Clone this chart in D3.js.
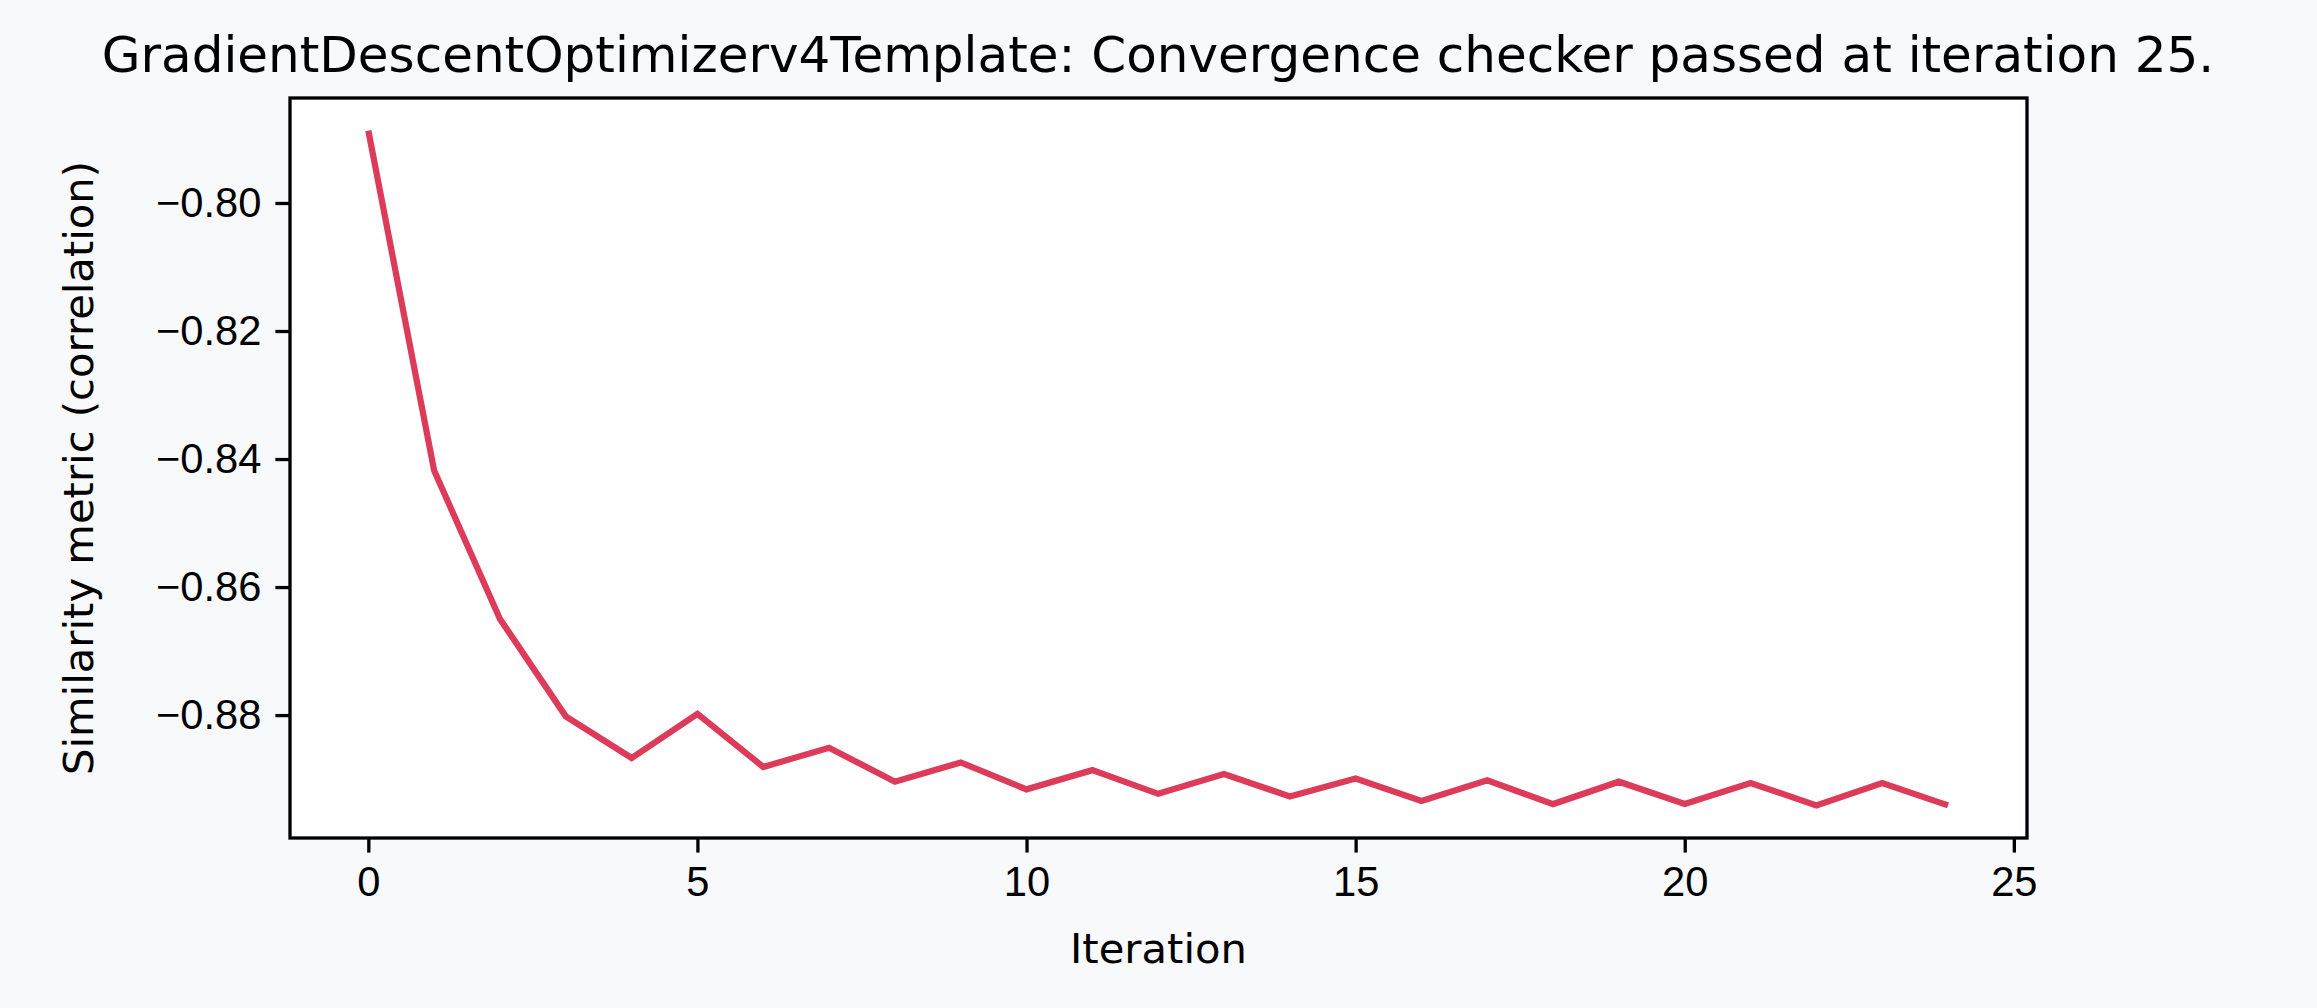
<!DOCTYPE html>
<html>
<head>
<meta charset="utf-8">
<script src="https://cdn.jsdelivr.net/npm/d3@7"></script>
<style>
  body { margin: 0; background: #f8f9fb; }
  svg { display: block; font-family: "DejaVu Sans", sans-serif; }
</style>
</head>
<body>
<div id="chart"></div>
<script>
const iterations = d3.range(25);
const metric = [-0.7887, -0.8418, -0.8650, -0.8802, -0.8867, -0.8798, -0.8881, -0.8851, -0.8904, -0.8874,
  -0.8916, -0.8886, -0.8923, -0.8892, -0.8927, -0.8899, -0.8934, -0.8902, -0.8939, -0.8904,
  -0.8939, -0.8906, -0.8941, -0.8906, -0.8941];
const xTicks = [0, 5, 10, 15, 20, 25];
const yTicks = [-0.80, -0.82, -0.84, -0.86, -0.88];

const width = 2317, height = 1008;
const plot = {left: 290, right: 2027, top: 98, bottom: 838};

const svg = d3.select("#chart").append("svg").attr("width", width).attr("height", height);
svg.append("rect").attr("width", width).attr("height", height).attr("fill", "#f8f9fb");
svg.append("rect").attr("x", plot.left).attr("y", plot.top)
  .attr("width", plot.right - plot.left).attr("height", plot.bottom - plot.top).attr("fill", "white");

const x = d3.scaleLinear().domain([-1.19, 25.2]).range([plot.left, plot.right]);
const y = d3.scaleLinear().domain([-0.8992, -0.7836]).range([plot.bottom, plot.top]);

const fmt = v => (v < 0 ? "\u2212" : "") + Math.abs(v).toFixed(2);

const xAxis = svg.append("g").attr("transform", `translate(0,${plot.bottom})`)
  .call(d3.axisBottom(x).tickValues(xTicks).tickSize(14.6).tickPadding(14));
const yAxis = svg.append("g").attr("transform", `translate(${plot.left},0)`)
  .call(d3.axisLeft(y).tickValues(yTicks).tickFormat(fmt).tickSize(14.6).tickPadding(14));
[xAxis, yAxis].forEach(a => {
  a.select(".domain").remove();
  a.selectAll("line").attr("stroke", "black").attr("stroke-width", 3.3);
  a.selectAll("text").attr("font-size", 41.7).attr("fill", "black");
});

// line
svg.append("path")
  .datum(iterations.map((d, i) => [d, metric[i]]))
  .attr("fill", "none").attr("stroke", "#dc3c5a").attr("stroke-width", 6.25)
  .attr("d", d3.line().x(d => x(d[0])).y(d => y(d[1])));

// frame
svg.append("rect").attr("x", plot.left).attr("y", plot.top)
  .attr("width", plot.right - plot.left).attr("height", plot.bottom - plot.top)
  .attr("fill", "none").attr("stroke", "black").attr("stroke-width", 3.3);

svg.append("text").attr("x", 1158).attr("y", 72).attr("text-anchor", "middle")
  .attr("font-size", 50).text("GradientDescentOptimizerv4Template: Convergence checker passed at iteration 25.");
svg.append("text").attr("x", (plot.left + plot.right) / 2).attr("y", 963).attr("text-anchor", "middle")
  .attr("font-size", 41.7).text("Iteration");
svg.append("text").attr("transform", `translate(93,${(plot.top + plot.bottom) / 2}) rotate(-90)`)
  .attr("text-anchor", "middle").attr("font-size", 41.7).text("Similarity metric (correlation)");
</script>
</body>
</html>
